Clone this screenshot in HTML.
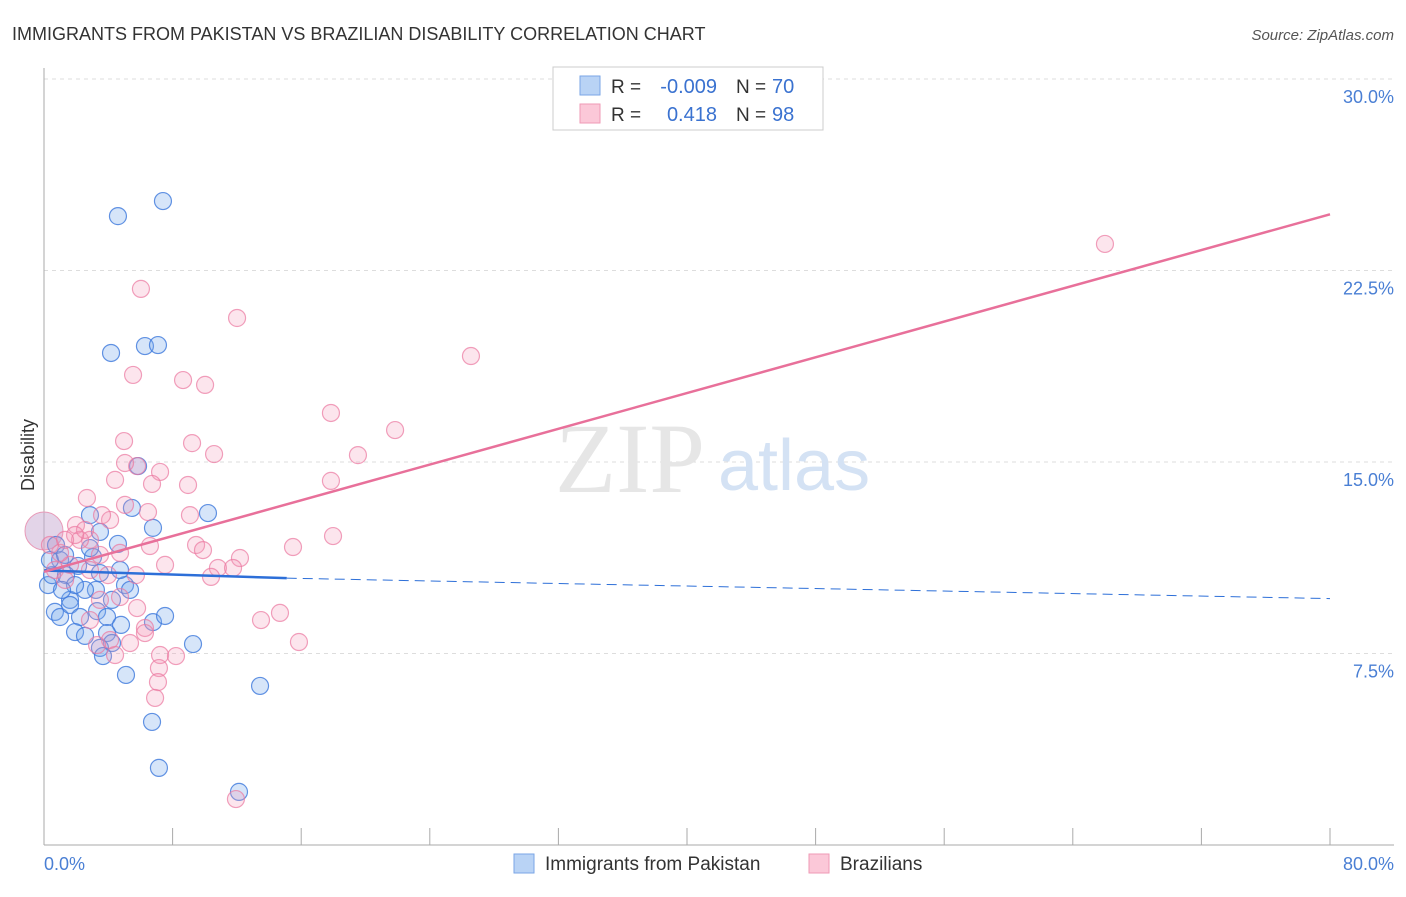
<!DOCTYPE html>
<html><head><meta charset="utf-8"><style>
body{margin:0;background:#fff;font-family:"Liberation Sans",sans-serif}
svg text{font-family:"Liberation Sans",sans-serif}
</style></head><body>
<svg width="1406" height="892" xmlns="http://www.w3.org/2000/svg">
<text x="12" y="40" font-size="18" fill="#333">IMMIGRANTS FROM PAKISTAN VS BRAZILIAN DISABILITY CORRELATION CHART</text>
<text x="1394" y="40" font-size="15" fill="#555" text-anchor="end" font-style="italic">Source: ZipAtlas.com</text>
<g id="grid"></g>
<g id="axes"></g>
<text x="555" y="492" font-size="100" fill="#e6e6e6" style="font-family:'Liberation Serif',serif">ZIP</text>
<text x="718" y="490" font-size="72" fill="#d4e2f4">atlas</text>
<g id="pts"></g>
<g id="lines"></g>
<text x="34" y="455" font-size="18" fill="#333" transform="rotate(-90 34 455)" text-anchor="middle">Disability</text>
<text x="44" y="870" font-size="18" fill="#4a7fd4">0.0%</text>
<text x="1394" y="870" font-size="18" fill="#4a7fd4" text-anchor="end">80.0%</text>
<g>
<rect x="553" y="67" width="270" height="63" fill="#fff" stroke="#ccc"/>
<rect x="580" y="76" width="20" height="19" fill="#b9d3f5" stroke="#7aa6e6"/>
<rect x="580" y="104" width="20" height="19" fill="#fbc8d8" stroke="#ef9ab6"/>
<text x="611" y="93" font-size="19" fill="#333">R =</text>
<text x="717" y="93" font-size="20" fill="#3a72d0" text-anchor="end">-0.009</text>
<text x="736" y="93" font-size="19" fill="#333">N =</text>
<text x="772" y="93" font-size="20" fill="#3a72d0">70</text>
<text x="611" y="121" font-size="19" fill="#333">R =</text>
<text x="717" y="121" font-size="20" fill="#3a72d0" text-anchor="end">0.418</text>
<text x="736" y="121" font-size="19" fill="#333">N =</text>
<text x="772" y="121" font-size="20" fill="#3a72d0">98</text>
</g>
<g>
<rect x="514" y="854" width="20" height="19" fill="#b9d3f5" stroke="#7aa6e6"/>
<text x="545" y="870" font-size="19" fill="#333">Immigrants from Pakistan</text>
<rect x="809" y="854" width="20" height="19" fill="#fbc8d8" stroke="#ef9ab6"/>
<text x="840" y="870" font-size="19" fill="#333">Brazilians</text>
</g>
</svg>
<script>
const yTicks=[7.5,15,22.5,30];
const yTickLabels=["7.5%","15.0%","22.5%","30.0%"];
const bluePx=[[118,216],[163,201],[111,353],[145,346],[158,345],[208,513],[153,528],[132,508],[90,515],[100,532],[118,544],[138,466],[93,557],[60,560],[78,566],[100,573],[125,585],[130,590],[96,590],[70,600],[55,612],[60,617],[70,605],[80,617],[97,611],[107,617],[75,632],[85,636],[121,625],[153,622],[165,616],[107,633],[112,643],[100,648],[103,656],[193,644],[126,675],[152,722],[159,768],[239,792],[260,686],[48,585],[52,575],[50,560],[66,575],[85,590],[75,585],[62,590],[112,600],[120,570],[90,548],[56,545],[65,555]];
const pinkPx=[[1105,244],[141,289],[237,318],[471,356],[133,375],[183,380],[205,385],[331,413],[395,430],[124,441],[192,443],[214,454],[358,455],[137,466],[160,472],[125,463],[152,484],[188,485],[331,481],[115,480],[87,498],[125,505],[148,512],[190,515],[110,520],[102,515],[76,525],[90,540],[120,553],[150,546],[196,545],[203,550],[240,558],[293,547],[333,536],[165,565],[218,568],[233,568],[211,577],[136,575],[108,575],[90,570],[70,565],[60,553],[50,545],[100,555],[280,613],[261,620],[299,642],[120,597],[137,608],[90,620],[145,628],[145,633],[130,643],[115,655],[160,655],[176,656],[159,668],[158,682],[155,698],[236,799],[80,540],[55,570],[65,580],[100,600],[110,640],[97,645],[85,530],[75,535],[65,540]];
const blueX=bluePx.map(p=>+((p[0]-44)/1286*80).toFixed(2));
const blueY=bluePx.map(p=>+((845-p[1])/766*30).toFixed(2));
const pinkX=pinkPx.map(p=>+((p[0]-44)/1286*80).toFixed(2));
const pinkY=pinkPx.map(p=>+((845-p[1])/766*30).toFixed(2));
const blueTrend=[[0,10.75],[15.1,10.45],[80,9.65]];
const pinkTrend=[[0,10.7],[80,24.7]];
const xTicks=[0,8,16,24,32,40,48,56,64,72,80];
const NS="http://www.w3.org/2000/svg";
const sx=v=>44+v/80*1286, sy=v=>845-v/30*766;
function mk(tag,attrs,parent){const e=document.createElementNS(NS,tag);for(const k in attrs)e.setAttribute(k,attrs[k]);parent.appendChild(e);return e;}
const grid=document.getElementById('grid'),axes=document.getElementById('axes'),pts=document.getElementById('pts'),lines=document.getElementById('lines');
yTicks.forEach((t,i)=>{
 const l=mk('line',{x1:44,x2:1394,y1:sy(t),y2:sy(t),stroke:'#ddd','stroke-dasharray':'4,4'},grid);
 
 
 const tx=mk('text',{x:1394,y:sy(t)+24,'font-size':18,fill:'#4a7fd4','text-anchor':'end'},grid);
 tx.textContent=yTickLabels[i];
 
 
});
mk('line',{x1:44,x2:44,y1:68,y2:845,stroke:'#aaa'},axes);
mk('line',{x1:44,x2:1394,y1:845,y2:845,stroke:'#aaa'},axes);
xTicks.forEach(t=>{const l=mk('line',{x1:sx(t),x2:sx(t),y1:828,y2:845,stroke:'#aaa'},axes);
 
 });
const big=mk('circle',{cx:sx(0),cy:sy(12.3),r:19,fill:'rgba(200,170,210,0.5)',stroke:'#e89ab8'},pts);


blueX.forEach((x,i)=>{const c=mk('circle',{cx:sx(x),cy:sy(blueY[i]),r:8.5,fill:'rgba(120,170,235,0.3)',stroke:'rgba(60,120,220,0.8)','stroke-width':1.2},pts);
 
 });
pinkX.forEach((x,i)=>{const c=mk('circle',{cx:sx(x),cy:sy(pinkY[i]),r:8.5,fill:'rgba(245,150,185,0.25)',stroke:'rgba(235,120,160,0.7)','stroke-width':1.2},pts);
 
 });
let b1=mk('line',{x1:sx(blueTrend[0][0]),y1:sy(blueTrend[0][1]),x2:sx(blueTrend[1][0]),y2:sy(blueTrend[1][1]),stroke:'#2d6fd8','stroke-width':2.5},lines);


let b2=mk('line',{x1:sx(blueTrend[1][0]),y1:sy(blueTrend[1][1]),x2:sx(blueTrend[2][0]),y2:sy(blueTrend[2][1]),stroke:'#2d6fd8','stroke-width':1,'stroke-dasharray':'10,6'},lines);


let p1=mk('line',{x1:sx(pinkTrend[0][0]),y1:sy(pinkTrend[0][1]),x2:sx(pinkTrend[1][0]),y2:sy(pinkTrend[1][1]),stroke:'#e8709a','stroke-width':2.5},lines);


</script>
</body></html>
